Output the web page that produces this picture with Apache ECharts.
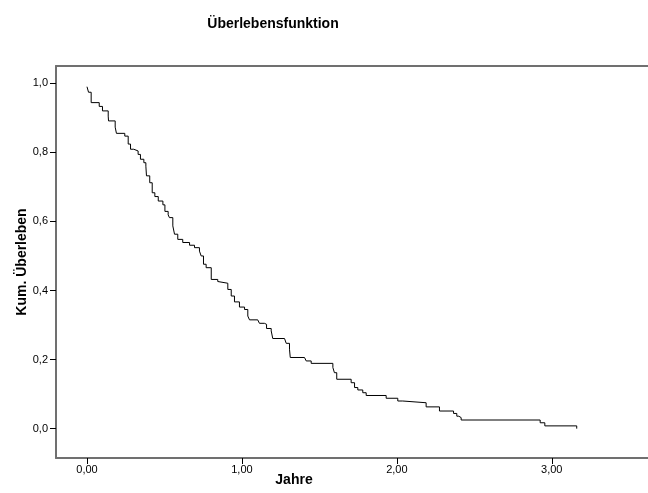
<!DOCTYPE html>
<html>
<head>
<meta charset="utf-8">
<script src="https://cdn.jsdelivr.net/npm/echarts@6/dist/echarts.min.js"></script>
<style>
  html, body { margin: 0; padding: 0; background: #fff; }
  #chart { width: 648px; height: 493px; }
</style>
</head>
<body>
<div id="chart"></div>
<script>
// Kaplan-Meier Schätzung
var zeiten = [0, 0.01, 0.027, 0.079, 0.10, 0.137, 0.139, 0.182, 0.19, 0.244, 0.266, 0.281, 0.302, 0.33, 0.345,
  0.367, 0.38, 0.384, 0.405, 0.421, 0.438, 0.46, 0.49, 0.503, 0.524, 0.532, 0.554, 0.565, 0.586, 0.618,
  0.662, 0.694, 0.726, 0.737, 0.752, 0.769, 0.802, 0.844, 0.855, 0.909, 0.931, 0.952, 0.984, 1.017,
  1.038, 1.049, 1.102, 1.113, 1.145, 1.159, 1.189, 1.199, 1.275, 1.286, 1.307, 1.312, 1.404, 1.415,
  1.447, 1.587, 1.597, 1.612, 1.705, 1.727, 1.748, 1.780, 1.802, 1.931, 2.006, 2.038, 2.189, 2.275,
  2.366, 2.387, 2.400, 2.415, 2.925, 2.955, 3.161];
var ueberleben = [0.99, 0.974, 0.944, 0.933, 0.920, 0.905, 0.891, 0.873, 0.855, 0.847, 0.824, 0.809, 0.804, 0.794, 0.780,
  0.770, 0.760, 0.732, 0.712, 0.683, 0.672, 0.659, 0.648, 0.629, 0.619, 0.611, 0.587, 0.563, 0.548, 0.539,
  0.531, 0.524, 0.514, 0.500, 0.476, 0.466, 0.432, 0.426, 0.421, 0.403, 0.384, 0.367, 0.352, 0.345,
  0.326, 0.315, 0.312, 0.305, 0.302, 0.290, 0.283, 0.261, 0.259, 0.247, 0.230, 0.206, 0.204, 0.196,
  0.189, 0.177, 0.162, 0.143, 0.133, 0.119, 0.112, 0.104, 0.096, 0.088, 0.080, 0.075, 0.063, 0.051,
  0.044, 0.036, 0.032, 0.025, 0.017, 0.008, 0.0];
var xTicks = [0, 1, 2, 3];
var yTicks = [0, 0.2, 0.4, 0.6, 0.8, 1.0];

var punkte = zeiten.map(function (t, i) { return [t, ueberleben[i]]; });
var fontFam = '"Liberation Sans", Arial, sans-serif';
var rahmen = { color: '#707070', width: 2 };

var chart = echarts.init(document.getElementById('chart'));
var option = {
  backgroundColor: '#fff',
  animation: false,
  title: [
    {
      text: 'Überlebensfunktion',
      left: 268, top: 12, textAlign: 'center',
      textStyle: { fontFamily: fontFam, fontSize: 14, fontWeight: 'bold', color: '#000' }
    },
    {
      text: 'Jahre',
      left: 289, top: 468, textAlign: 'center',
      textStyle: { fontFamily: fontFam, fontSize: 14, fontWeight: 'bold', color: '#000' }
    }
  ],
  // y-Achsentitel gedreht
  graphic: [
    {
      type: 'text',
      x: 22, y: 262,
      rotation: Math.PI / 2,
      style: {
        text: 'Kum. Überleben',
        fontFamily: fontFam, fontSize: 14, fontWeight: 'bold', fill: '#000',
        textAlign: 'center', textVerticalAlign: 'middle'
      }
    }
  ],
  grid: { left: 56, top: 66, bottom: 35, right: 0, show: false },
  xAxis: [
    {
      type: 'value',
      position: 'bottom',
      min: -0.2, max: 3.621,
      splitLine: { show: false },
      axisLine: { show: true, onZero: false, lineStyle: rahmen },
      axisTick: { show: true, length: 6, customValues: xTicks, lineStyle: { color: '#000', width: 1 } },
      axisLabel: {
        customValues: xTicks, margin: 6, color: '#000', fontFamily: fontFam, fontSize: 11,
        formatter: function (v) { return v.toFixed(2).replace('.', ','); }
      }
    },
    {
      type: 'value',
      position: 'top',
      min: -0.2, max: 3.621,
      splitLine: { show: false },
      axisLine: { show: true, onZero: false, lineStyle: rahmen },
      axisTick: { show: false },
      axisLabel: { show: false }
    }
  ],
  yAxis: {
    type: 'value',
    min: -0.085, max: 1.05,
    splitLine: { show: false },
    axisLine: { show: true, onZero: false, lineStyle: rahmen },
    axisTick: { show: true, length: 6, customValues: yTicks, lineStyle: { color: '#000', width: 1 } },
    axisLabel: {
      customValues: yTicks, margin: 8, color: '#000', fontFamily: fontFam, fontSize: 11,
      formatter: function (v) { return v.toFixed(1).replace('.', ','); }
    }
  },
  series: [
    {
      type: 'line',
      step: 'end',
      data: punkte,
      symbol: 'none',
      lineStyle: { color: '#000', width: 1 }
    }
  ]
};
chart.setOption(option);
</script>
</body>
</html>
